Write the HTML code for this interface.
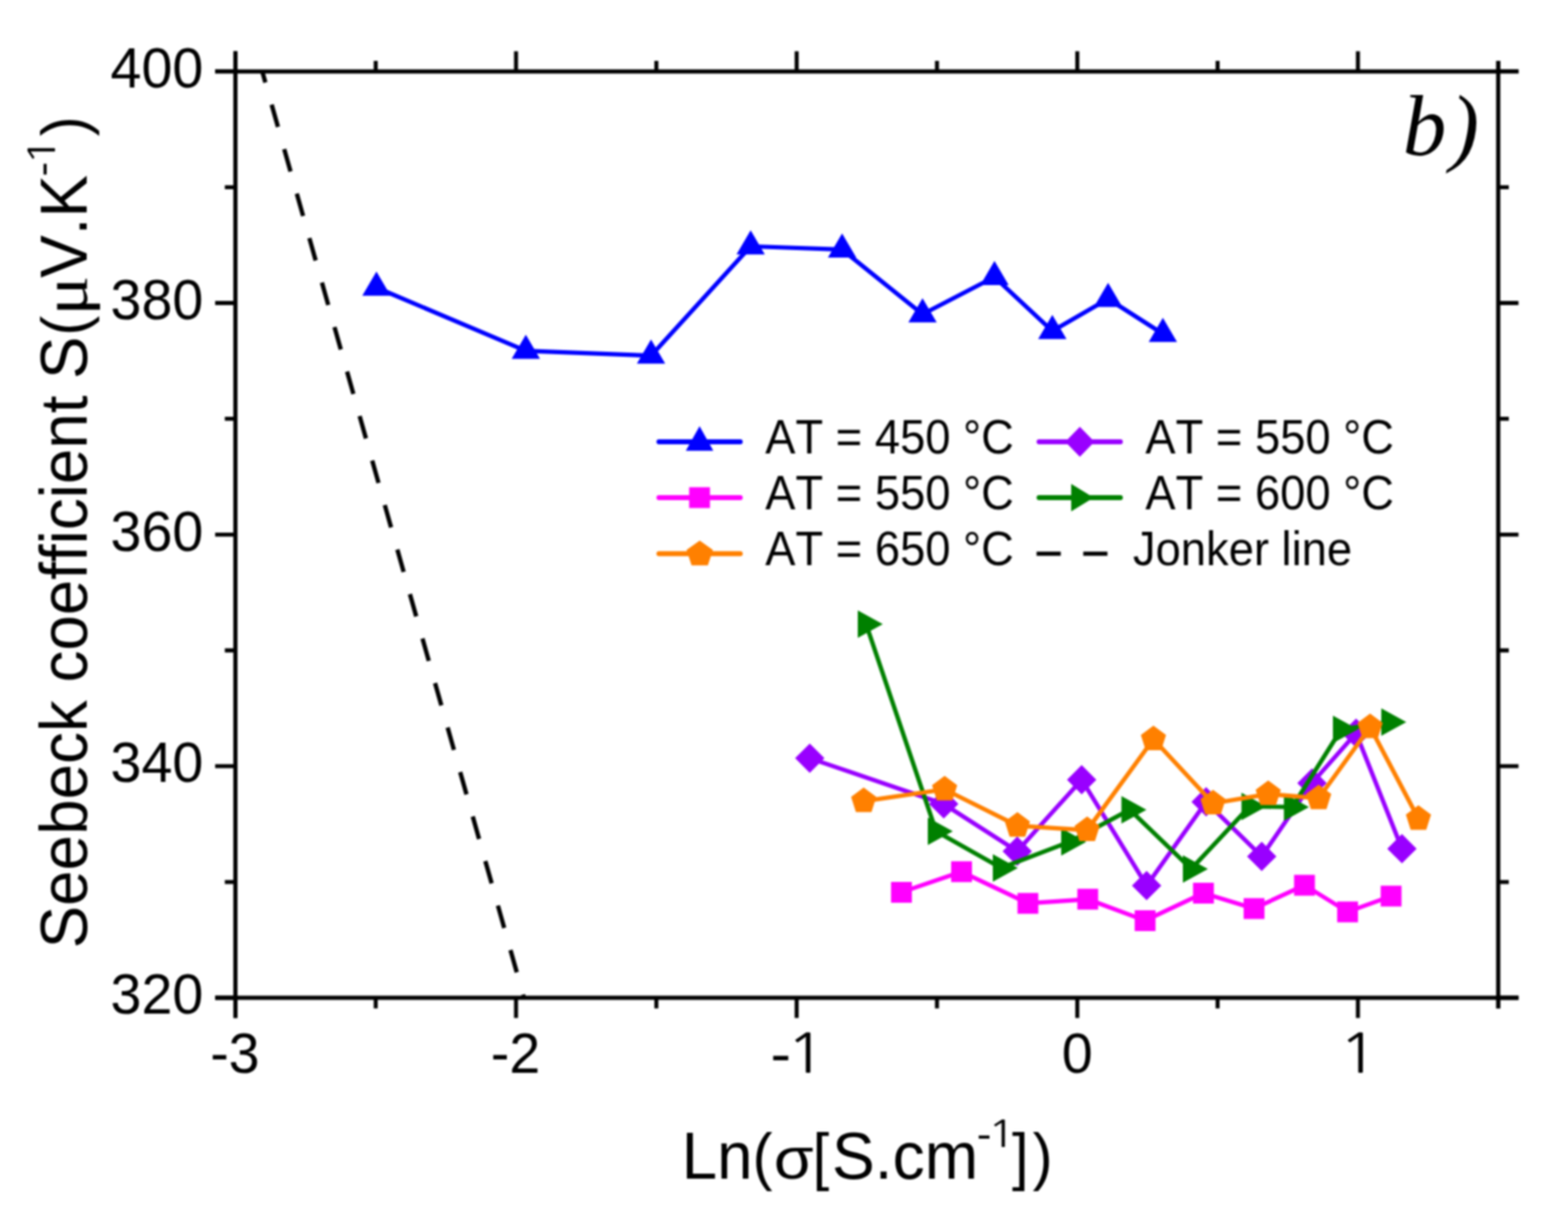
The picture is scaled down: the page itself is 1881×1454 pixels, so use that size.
<!DOCTYPE html>
<html lang="en"><head><meta charset="utf-8"><title>Seebeck coefficient vs Ln(conductivity)</title>
<style>
html,body{margin:0;padding:0;background:#fff;}
body{width:1881px;height:1454px;overflow:hidden;}
svg{display:block;}
text{font-family:"Liberation Sans", sans-serif;fill:#000;font-kerning:none;font-variant-ligatures:none;}
.tick{font-size:68.3px;}
.title{font-size:79.6px;}
.sig{font-size:70.6px;}
.sup{font-size:48px;}
.one{font-family:"NanumGothic", "Liberation Sans", sans-serif;font-size:64.5px;}
.sup1{font-size:44.2px;}
.br{font-size:75.1px;}
.sym{font-family:"Liberation Serif", serif;font-size:76.5px;}
.leg{font-size:56.6px;}
.panel{font-family:"Liberation Serif", serif;font-style:italic;font-size:104.5px;}
</style></head><body>
<svg width="1881" height="1454" viewBox="0 0 1881 1454" role="img" aria-label="Seebeck coefficient versus Ln of conductivity for several annealing temperatures">
<rect width="1881" height="1454" fill="#ffffff"/>
<defs><filter id="soft" x="0" y="0" width="1881" height="1454" filterUnits="userSpaceOnUse" color-interpolation-filters="sRGB"><feGaussianBlur stdDeviation="0.8"/></filter></defs>
<g id="chart" filter="url(#soft)">
<rect width="1881" height="1454" fill="#ffffff"/>
<defs><clipPath id="plotclip"><rect x="282.4" y="85.7" width="1514.9" height="1111.3"/></clipPath></defs>
<g clip-path="url(#plotclip)"><line id="jonker" x1="310.8" y1="72.1" x2="629.4" y2="1200" stroke="#000" stroke-width="5.2" stroke-dasharray="27.9 27.57"/></g>
<g class="series" id="s450">
<polyline fill="none" stroke="#0000ff" stroke-width="5.2" stroke-linejoin="round" stroke-linecap="round" points="451.6,345 630.8,420.8 781,426.7 900.5,295.5 1010.2,299.3 1106.7,377 1193,332.3 1262.4,397.1 1329.3,358.5 1395,400.5"/>
<path fill="#0000ff" d="M451.6 325.67 L468.6 354.67 L434.6 354.67 Z M630.8 401.47 L647.8 430.47 L613.8 430.47 Z M781 407.37 L798 436.37 L764 436.37 Z M900.5 276.17 L917.5 305.17 L883.5 305.17 Z M1010.2 279.97 L1027.2 308.97 L993.2 308.97 Z M1106.7 357.67 L1123.7 386.67 L1089.7 386.67 Z M1193 312.97 L1210 341.97 L1176 341.97 Z M1262.4 377.77 L1279.4 406.77 L1245.4 406.77 Z M1329.3 339.17 L1346.3 368.17 L1312.3 368.17 Z M1395 381.17 L1412 410.17 L1378 410.17 Z"/>
</g>
<g class="series" id="s550a">
<polyline fill="none" stroke="#ff00ff" stroke-width="5.2" stroke-linejoin="round" stroke-linecap="round" points="1081.4,1070.4 1153.5,1045.8 1233.1,1083.7 1304.9,1078.8 1373.7,1104.4 1443.7,1071.4 1504.4,1089.9 1564.9,1061.9 1616.6,1093.9 1668.8,1075.1"/>
<path fill="#ff00ff" d="M1068.9 1057.9 h25 v25 h-25 Z M1141 1033.3 h25 v25 h-25 Z M1220.6 1071.2 h25 v25 h-25 Z M1292.4 1066.3 h25 v25 h-25 Z M1361.2 1091.9 h25 v25 h-25 Z M1431.2 1058.9 h25 v25 h-25 Z M1491.9 1077.4 h25 v25 h-25 Z M1552.4 1049.4 h25 v25 h-25 Z M1604.1 1081.4 h25 v25 h-25 Z M1656.3 1062.6 h25 v25 h-25 Z"/>
</g>
<g class="series" id="s550b">
<polyline fill="none" stroke="#9900ff" stroke-width="5.2" stroke-linejoin="round" stroke-linecap="round" points="971.4,909.6 1132.1,964.5 1220.3,1021.2 1297.6,935.4 1375.5,1062.4 1446.9,961.9 1513.6,1027.4 1573.9,939.4 1626.8,879.5 1681.8,1018.2"/>
<path fill="#9900ff" d="M971.4 892 L989 909.6 L971.4 927.2 L953.8 909.6 Z M1132.1 946.9 L1149.7 964.5 L1132.1 982.1 L1114.5 964.5 Z M1220.3 1003.6 L1237.9 1021.2 L1220.3 1038.8 L1202.7 1021.2 Z M1297.6 917.8 L1315.2 935.4 L1297.6 953 L1280 935.4 Z M1375.5 1044.8 L1393.1 1062.4 L1375.5 1080 L1357.9 1062.4 Z M1446.9 944.3 L1464.5 961.9 L1446.9 979.5 L1429.3 961.9 Z M1513.6 1009.8 L1531.2 1027.4 L1513.6 1045 L1496 1027.4 Z M1573.9 921.8 L1591.5 939.4 L1573.9 957 L1556.3 939.4 Z M1626.8 861.9 L1644.4 879.5 L1626.8 897.1 L1609.2 879.5 Z M1681.8 1000.6 L1699.4 1018.2 L1681.8 1035.8 L1664.2 1018.2 Z"/>
</g>
<g class="series" id="s600">
<polyline fill="none" stroke="#008000" stroke-width="5.2" stroke-linejoin="round" stroke-linecap="round" points="1039,748.8 1123,997.3 1201,1041.3 1283,1010 1355.3,971.4 1429,1042.4 1499.3,967.4 1550.2,968.2 1609,875 1667,866.2"/>
<path fill="#008000" d="M1029 732.3 L1059 748.8 L1029 765.3 Z M1113 980.8 L1143 997.3 L1113 1013.8 Z M1191 1024.8 L1221 1041.3 L1191 1057.8 Z M1273 993.5 L1303 1010 L1273 1026.5 Z M1345.3 954.9 L1375.3 971.4 L1345.3 987.9 Z M1419 1025.9 L1449 1042.4 L1419 1058.9 Z M1489.3 950.9 L1519.3 967.4 L1489.3 983.9 Z M1540.2 951.7 L1570.2 968.2 L1540.2 984.7 Z M1599 858.5 L1629 875 L1599 891.5 Z M1657 849.7 L1687 866.2 L1657 882.7 Z"/>
</g>
<g class="series" id="s650">
<polyline fill="none" stroke="#ff8000" stroke-width="5.2" stroke-linejoin="round" stroke-linecap="round" points="1036.1,961.1 1133.2,947 1220.5,990.6 1304.2,995.9 1383.7,886.8 1455.2,963.8 1521.4,952.6 1581.9,957.6 1643.6,872.3 1701.6,982.3"/>
<path fill="#ff8000" d="M1036.1 944.8 L1051.2 956.06 L1045.43 974.29 L1026.77 974.29 L1021 956.06 Z M1133.2 930.7 L1148.3 941.96 L1142.53 960.19 L1123.87 960.19 L1118.1 941.96 Z M1220.5 974.3 L1235.6 985.56 L1229.83 1003.79 L1211.17 1003.79 L1205.4 985.56 Z M1304.2 979.6 L1319.3 990.86 L1313.53 1009.09 L1294.87 1009.09 L1289.1 990.86 Z M1383.7 870.5 L1398.8 881.76 L1393.03 899.99 L1374.37 899.99 L1368.6 881.76 Z M1455.2 947.5 L1470.3 958.76 L1464.53 976.99 L1445.87 976.99 L1440.1 958.76 Z M1521.4 936.3 L1536.5 947.56 L1530.73 965.79 L1512.07 965.79 L1506.3 947.56 Z M1581.9 941.3 L1597 952.56 L1591.23 970.79 L1572.57 970.79 L1566.8 952.56 Z M1643.6 856 L1658.7 867.26 L1652.93 885.49 L1634.27 885.49 L1628.5 867.26 Z M1701.6 966 L1716.7 977.26 L1710.93 995.49 L1692.27 995.49 L1686.5 977.26 Z"/>
</g>
<g id="axes" stroke="#000" fill="none" stroke-linecap="butt">
<path stroke-width="5" d="M258.1 85.7 H1821.6 M258.1 1197 H1821.6 M282.4 61.4 V1221.3 M1797.3 73 V1209.7"/>
<path stroke-width="4.8" d="M282.4 61.4 V85.7 M282.4 1197 V1221.3 M450.72 73 V85.7 M450.72 1197 V1209.7 M619.04 61.4 V85.7 M619.04 1197 V1221.3 M787.37 73 V85.7 M787.37 1197 V1209.7 M955.69 61.4 V85.7 M955.69 1197 V1221.3 M1124.01 73 V85.7 M1124.01 1197 V1209.7 M1292.33 61.4 V85.7 M1292.33 1197 V1221.3 M1460.66 73 V85.7 M1460.66 1197 V1209.7 M1628.98 61.4 V85.7 M1628.98 1197 V1221.3 M1797.3 73 V85.7 M1797.3 1197 V1209.7 M258.1 85.7 H282.4 M1797.3 85.7 H1821.6 M269.7 224.61 H282.4 M1797.3 224.61 H1810 M258.1 363.52 H282.4 M1797.3 363.52 H1821.6 M269.7 502.44 H282.4 M1797.3 502.44 H1810 M258.1 641.35 H282.4 M1797.3 641.35 H1821.6 M269.7 780.26 H282.4 M1797.3 780.26 H1810 M258.1 919.18 H282.4 M1797.3 919.18 H1821.6 M269.7 1058.09 H282.4 M1797.3 1058.09 H1810 M258.1 1197 H282.4 M1797.3 1197 H1821.6"/>
</g>
<text class="title" transform="translate(817 1414) scale(0.961 1)"><tspan x="0.75" y="0">Ln</tspan><tspan x="89.2" y="-1.1" class="br">(</tspan><tspan x="115.66" y="0" textLength="49.77" lengthAdjust="spacingAndGlyphs" class="sig">σ</tspan><tspan x="164.16" y="-1.1" class="br">[</tspan><tspan x="188.24" y="0" textLength="182.68" lengthAdjust="spacingAndGlyphs">S.cm</tspan><tspan x="369.25" y="-36.7" textLength="18.31" lengthAdjust="spacingAndGlyphs" class="sup">-</tspan><tspan x="382.55" y="-37.8" textLength="35.84" lengthAdjust="spacingAndGlyphs" class="one sup1">1</tspan><tspan x="413.04" y="-1.1" class="br">]</tspan><tspan x="439" y="-1.1" class="br">)</tspan></text>
<text class="title" transform="translate(104 1138) rotate(-90) scale(0.961 1)"><tspan x="0.34" y="0">Seebeck coefficient </tspan><tspan x="710.95" y="0">S</tspan><tspan x="765.06" y="-1.1" class="br">(</tspan><tspan x="790.07" y="0" textLength="49.85" lengthAdjust="spacingAndGlyphs" class="sym">μ</tspan><tspan x="837.32" y="0">V.K</tspan><tspan x="963.95" y="-36.7" textLength="18.31" lengthAdjust="spacingAndGlyphs" class="sup">-</tspan><tspan x="977.58" y="-37.8" textLength="35.28" lengthAdjust="spacingAndGlyphs" class="one sup1">1</tspan><tspan x="1014.13" y="-1.1" class="br">)</tspan></text>
<text class="tick" text-anchor="end" transform="translate(243.9 104.9) scale(0.977 1)">400</text>
<text class="tick" text-anchor="end" transform="translate(243.9 382.72) scale(0.977 1)">380</text>
<text class="tick" text-anchor="end" transform="translate(243.9 660.55) scale(0.977 1)">360</text>
<text class="tick" text-anchor="end" transform="translate(243.9 938.38) scale(0.977 1)">340</text>
<text class="tick" text-anchor="end" transform="translate(243.9 1216.2) scale(0.977 1)">320</text>
<text class="tick" text-anchor="middle" transform="translate(281.8 1286.5) scale(0.977 1)">-3</text>
<text class="tick" text-anchor="middle" transform="translate(618.44 1286.5) scale(0.977 1)">-2</text>
<text class="tick" text-anchor="middle" transform="translate(1292.33 1286.5) scale(0.977 1)">0</text>
<text class="tick" transform="translate(927.5 1286.5) scale(0.977 1)"><tspan x="-3.37" y="1.3" textLength="25.27" lengthAdjust="spacingAndGlyphs">-</tspan><tspan x="15.64" y="0" textLength="49.46" lengthAdjust="spacingAndGlyphs" class="one">1</tspan></text>
<text class="tick" transform="translate(1616.7 1286.5) scale(0.977 1)"><tspan x="-11.59" y="0" textLength="49.46" lengthAdjust="spacingAndGlyphs" class="one">1</tspan></text>
<text class="panel" x="1682.8" y="186.2">b<tspan dx="4.4">)</tspan></text>
<g id="legend">
<line x1="790.5" y1="530" x2="888" y2="530" stroke="#0000ff" stroke-width="6" stroke-linecap="round"/>
<path fill="#0000ff" d="M839.2 511.33 L855.7 540.83 L822.7 540.83 Z"/>
<line x1="790.5" y1="597" x2="888" y2="597" stroke="#ff00ff" stroke-width="6" stroke-linecap="round"/>
<path fill="#ff00ff" d="M826.7 584.5 h25 v25 h-25 Z"/>
<line x1="790.5" y1="664.3" x2="888" y2="664.3" stroke="#ff8000" stroke-width="6" stroke-linecap="round"/>
<path fill="#ff8000" d="M839.4 648.4 L855.2 659.8 L849.16 678.25 L829.64 678.25 L823.6 659.8 Z"/>
<line x1="1246.5" y1="530" x2="1344" y2="530" stroke="#9900ff" stroke-width="6" stroke-linecap="round"/>
<path fill="#9900ff" d="M1295.4 512 L1312.9 530 L1295.4 548 L1277.9 530 Z"/>
<line x1="1246.5" y1="597" x2="1344" y2="597" stroke="#008000" stroke-width="6" stroke-linecap="round"/>
<path fill="#008000" d="M1285 580.5 L1312 597 L1285 613.5 Z"/>
<path stroke="#000" stroke-width="5" fill="none" d="M1243.5 664.3 h29 M1299.5 664.3 h29"/>
<text class="leg" text-anchor="start" transform="translate(918 544) scale(0.961 1)">AT = 450 °C</text>
<text class="leg" text-anchor="start" transform="translate(918 610.9) scale(0.961 1)">AT = 550 °C</text>
<text class="leg" text-anchor="start" transform="translate(918 678) scale(0.961 1)">AT = 650 °C</text>
<text class="leg" text-anchor="start" transform="translate(1374 544) scale(0.961 1)">AT = 550 °C</text>
<text class="leg" text-anchor="start" transform="translate(1374 610.9) scale(0.961 1)">AT = 600 °C</text>
<text class="leg" text-anchor="start" transform="translate(1359 678) scale(0.961 1)">Jonker line</text>
</g>
</g>
</svg>
</body></html>
